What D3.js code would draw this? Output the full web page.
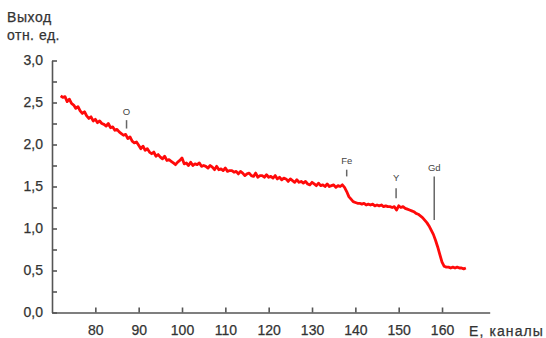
<!DOCTYPE html>
<html>
<head>
<meta charset="utf-8">
<script src="https://cdn.jsdelivr.net/npm/d3@7"></script>
<style>
  html, body { margin: 0; padding: 0; background: #fff; }
  svg { display: block; font-family: "Liberation Sans", Arial, sans-serif; }
</style>
</head>
<body>
<svg id="chart" width="546" height="338"></svg>
<script>
// Spectrum channels (E, channels) and relative yield
const channels = [
  72, 72.5, 73, 73.5, 74, 74.5, 75, 75.5, 76, 76.5, 77, 77.5, 78, 78.5, 79, 79.5,
  80, 80.5, 81, 81.5, 82, 82.5, 83, 83.5, 84, 84.5, 85, 85.5, 86, 86.5, 87, 87.5,
  88, 88.5, 89, 89.5, 90, 90.5, 91, 91.5, 92, 92.5, 93, 93.5, 94, 94.5, 95, 95.5,
  96, 96.5, 97, 97.5, 98, 98.5, 99, 99.5, 100, 100.5, 101, 101.5, 102, 102.5, 103, 103.5,
  104, 104.5, 105, 105.5, 106, 106.5, 107, 107.5, 108, 108.5, 109, 109.5, 110, 110.5, 111, 111.5,
  112, 112.5, 113, 113.5, 114, 114.5, 115, 115.5, 116, 116.5, 117, 117.5, 118, 118.5, 119, 119.5,
  120, 120.5, 121, 121.5, 122, 122.5, 123, 123.5, 124, 124.5, 125, 125.5, 126, 126.5, 127, 127.5,
  128, 128.5, 129, 129.5, 130, 130.5, 131, 131.5, 132, 132.5, 133, 133.5, 134, 134.5, 135, 135.5,
  136, 136.5, 137, 137.5, 138, 138.5, 139, 139.5, 140, 140.5, 141, 141.5, 142, 142.5, 143, 143.5,
  144, 144.5, 145, 145.5, 146, 146.5, 147, 147.5, 148, 148.5, 149, 149.5, 150, 150.5, 151, 151.5,
  152, 152.5, 153, 153.5, 154, 154.5, 155, 155.5, 156, 156.5, 157, 157.5, 158, 158.5, 159, 159.5,
  160, 160.5, 161, 161.5, 162, 162.5, 163, 163.5, 164, 164.5, 165, 165.5
];
const yieldValues = [
  2.58, 2.56, 2.57, 2.51, 2.54, 2.49, 2.47, 2.43, 2.45, 2.40, 2.37, 2.39, 2.34, 2.31, 2.33, 2.28,
  2.30, 2.26, 2.28, 2.25, 2.24, 2.22, 2.25, 2.20, 2.21, 2.17, 2.18, 2.15, 2.13, 2.11, 2.12, 2.07,
  2.09, 2.04, 2.02, 2.03, 1.99, 1.95, 1.98, 1.93, 1.95, 1.91, 1.89, 1.91, 1.86, 1.88, 1.85, 1.83,
  1.86, 1.81, 1.82, 1.80, 1.78, 1.76, 1.79, 1.81, 1.84, 1.77, 1.78, 1.75, 1.79, 1.75, 1.77, 1.76,
  1.78, 1.74, 1.75, 1.74, 1.72, 1.75, 1.73, 1.70, 1.74, 1.70, 1.71, 1.69, 1.72, 1.68, 1.69, 1.69,
  1.67, 1.68, 1.65, 1.68, 1.66, 1.63, 1.65, 1.66, 1.63, 1.62, 1.66, 1.61, 1.63, 1.63, 1.61, 1.64,
  1.61, 1.62, 1.60, 1.63, 1.59, 1.61, 1.58, 1.60, 1.59, 1.56, 1.59, 1.57, 1.55, 1.58, 1.55, 1.56,
  1.54, 1.56, 1.53, 1.52, 1.55, 1.53, 1.51, 1.54, 1.51, 1.52, 1.50, 1.53, 1.50, 1.51, 1.52, 1.49,
  1.51, 1.50, 1.52, 1.49, 1.44, 1.38, 1.35, 1.32, 1.31, 1.30, 1.30, 1.29, 1.30, 1.28, 1.29, 1.28,
  1.29, 1.27, 1.28, 1.27, 1.28, 1.26, 1.27, 1.26, 1.26, 1.25, 1.26, 1.22, 1.27, 1.25, 1.26, 1.24,
  1.23, 1.22, 1.21, 1.20, 1.18, 1.17, 1.15, 1.13, 1.10, 1.07, 1.03, 0.98, 0.93, 0.86, 0.78, 0.69,
  0.60, 0.55, 0.54, 0.54, 0.53, 0.54, 0.53, 0.54, 0.53, 0.53, 0.52, 0.53
];

// Element markers: label, channel, label level, marker line from/to
const markerNames = ["O", "Fe", "Y", "Gd"];
const markerChannels = [87.2, 138.0, 149.4, 158.2];
const markerLabelLevels = [2.39, 1.81, 1.60, 1.72];
const markerLineTop = [2.29, 1.70, 1.48, 1.62];
const markerLineBottom = [2.19, 1.62, 1.36, 1.10];

const xTicks = [80, 90, 100, 110, 120, 130, 140, 150, 160];
const yTicks = [0, 0.25, 0.5, 0.75, 1, 1.25, 1.5, 1.75, 2, 2.25, 2.5, 2.75, 3];
const yLabelTicks = [0, 0.5, 1, 1.5, 2, 2.5, 3];

const svg = d3.select("#chart");
const x = d3.scaleLinear().domain([70, 171]).range([52, 489.7]);
const y = d3.scaleLinear().domain([0, 3]).range([312.5, 60.5]);

const axisColor = "#555";
const textColor = "#333";

// Y axis with inward ticks, labels only on half-unit steps
const yAxis = d3.axisLeft(y)
  .tickValues(yTicks)
  .tickSizeInner(-5)
  .tickSizeOuter(0)
  .tickPadding(9)
  .tickFormat(d => yLabelTicks.includes(d) ? d3.format(".1f")(d).replace(".", ",") : "");
const gy = svg.append("g").attr("transform", "translate(52,0)").call(yAxis);

// X axis with inward ticks
const xAxis = d3.axisBottom(x)
  .tickValues(xTicks)
  .tickSizeInner(-5)
  .tickSizeOuter(0)
  .tickPadding(13)
  .tickFormat(d3.format("d"));
const gx = svg.append("g").attr("transform", "translate(0,312.5)").call(xAxis);

[gx, gy].forEach(g => {
  g.select(".domain").attr("stroke", axisColor).attr("stroke-width", 1.6);
  g.selectAll(".tick line").attr("stroke", axisColor).attr("stroke-width", 1.6);
  g.selectAll(".tick text").attr("fill", textColor).attr("font-size", 14)
    .attr("stroke", textColor).attr("stroke-width", 0.25)
    .attr("font-family", "'Liberation Sans', Arial, sans-serif");
});

// Axis titles
const title = (tx, ty, s, spacing) => svg.append("text")
  .attr("x", tx).attr("y", ty).attr("fill", textColor)
  .attr("stroke", textColor).attr("stroke-width", 0.25)
  .attr("font-size", 14).attr("letter-spacing", spacing).text(s);
title(7, 22, "Выход", 0.6);
title(7, 40, "отн. ед.", 0.5);
title(469, 335.5, "E, каналы", 1.1);

// Yield curve
const data = channels.map((c, i) => ({ c, v: yieldValues[i] }));
svg.append("path")
  .datum(data)
  .attr("fill", "none")
  .attr("stroke", "#ff0a0a")
  .attr("stroke-width", 2.8)
  .attr("stroke-linejoin", "round")
  .attr("d", d3.line().x(d => x(d.c)).y(d => y(d.v)));

// Element markers
const markers = markerNames.map((n, i) => ({
  n, c: markerChannels[i], l: markerLabelLevels[i], t: markerLineTop[i], b: markerLineBottom[i]
}));
const mg = svg.append("g");
mg.selectAll("line").data(markers).join("line")
  .attr("x1", d => x(d.c)).attr("x2", d => x(d.c))
  .attr("y1", d => y(d.t)).attr("y2", d => y(d.b))
  .attr("stroke", "#666").attr("stroke-width", 1.5);
mg.selectAll("text").data(markers).join("text")
  .attr("x", d => x(d.c)).attr("y", d => y(d.l))
  .attr("dy", "0.35em")
  .attr("text-anchor", "middle")
  .attr("font-size", 9.5)
  .attr("fill", "#444")
  .text(d => d.n);
</script>
</body>
</html>
